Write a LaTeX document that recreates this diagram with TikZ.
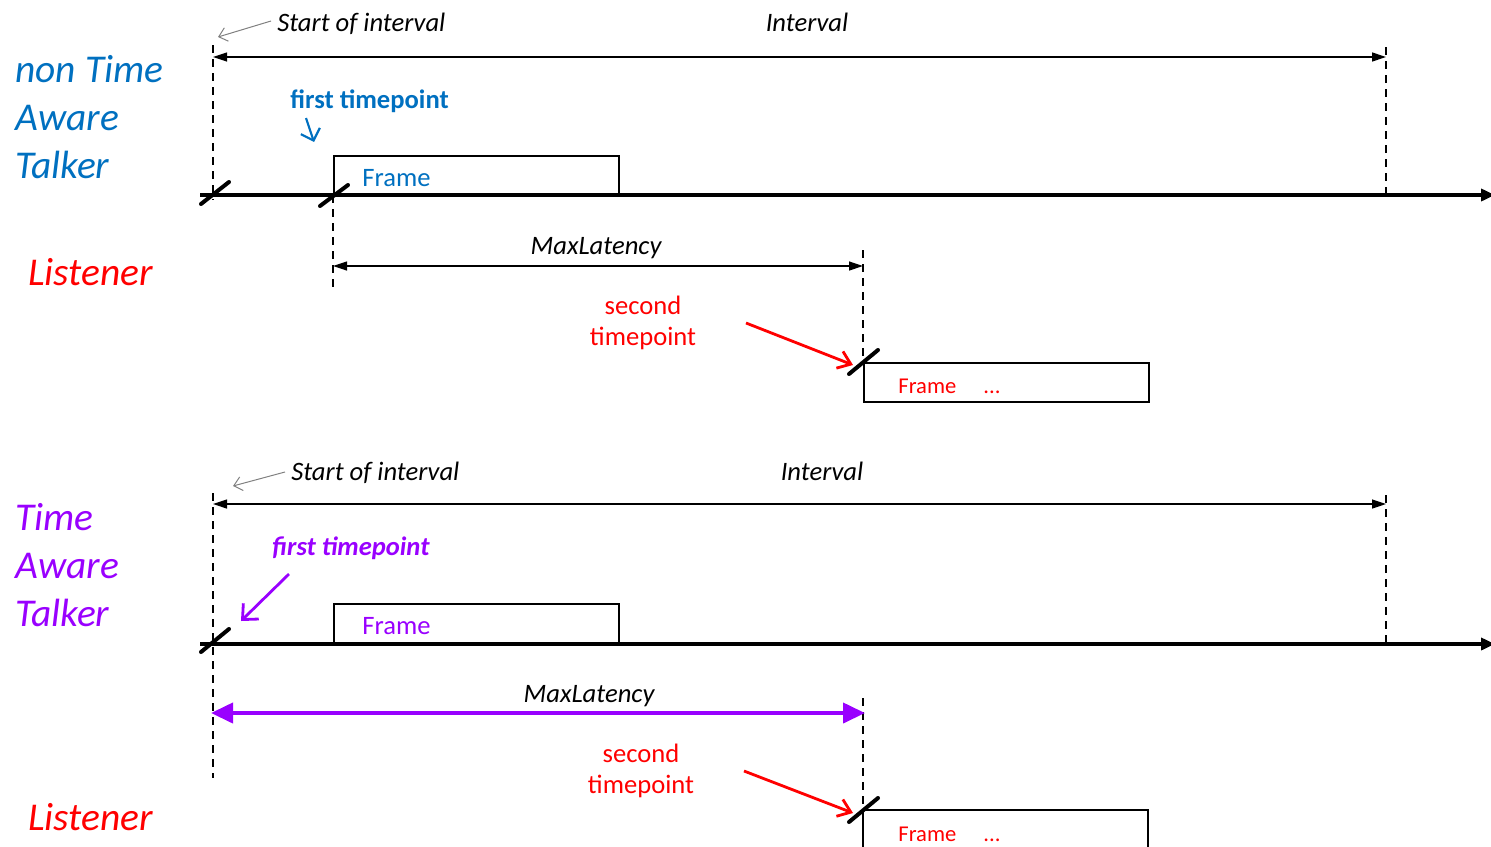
\documentclass[tikz,border=0pt]{standalone}
\usepackage{fontspec}
\setmainfont{Carlito}
\usetikzlibrary{arrows.meta,calc}
\definecolor{tblue}{RGB}{0,112,192}
\definecolor{tred}{RGB}{255,0,0}
\definecolor{tpurple}{RGB}{153,0,255}
\definecolor{tgray}{RGB}{128,128,128}
\tikzset{
  txt/.style={inner sep=0pt, anchor=base west, font=\fontsize{13.3}{16}\selectfont},
  big/.style={inner sep=0pt, anchor=base west, font=\fontsize{19.7}{24}\selectfont\itshape},
  timeline/.style={line width=2pt, -{Triangle[length=7pt,width=6pt]}},
  tick/.style={line width=2pt, line cap=round},
  guide/.style={line width=0.7pt, dash pattern=on 4pt off 3pt},
  dimarrow/.style={line width=0.6pt, {Triangle[length=7pt,width=4.5pt]}-{Triangle[length=7pt,width=4.5pt]}},
  framebox/.style={draw, line width=0.9pt, inner sep=0pt, anchor=north west},
  redarrow/.style={tred, line width=1.4pt, -{Straight Barb[length=6pt,width=9pt]}},
}
\begin{document}
\begin{tikzpicture}[x=0.5pt,y=-0.5pt]
\useasboundingbox (0,0) rectangle (1491,846);

% ================= TOP: non Time Aware Talker =================
\coordinate (t1L) at (200,195);
\coordinate (t1R) at (1495,195);
\coordinate (s1) at (213,195);
\coordinate (f1) at (333,195);
\coordinate (e1) at (1386,195);
\coordinate (g1) at (863,362);

\draw[timeline] (t1L) -- (t1R);

% dashed guides
\draw[guide] (213,45) -- (213,200);
\draw[guide] (1386,47) -- (e1);
\draw[guide] (f1) -- (333,287);
\draw[guide] (863,250) -- (g1);

% interval arrow
\coordinate (i1a) at (213,57);
\coordinate (i1b) at (1386,57);
\draw[dimarrow] (i1a) -- (i1b);
\node[txt, font=\fontsize{13.3}{16}\selectfont\itshape] (soi1) at (277,32) {Start of interval};
\node[txt, anchor=base, font=\fontsize{13.3}{16}\selectfont\itshape] (int1) at (807,32) {Interval};
\coordinate (soi1a) at (218,37);
\draw[tgray, line width=0.5pt, -{Straight Barb[length=4pt,width=7pt]}] (271,21) -- (soi1a);

% frame box
\node[framebox, minimum width=142.5pt, minimum height=20pt] (fb1) at (333,155) {};
\node[txt, tblue] (fr1) at (362,186) {Frame};

% first timepoint
\node[txt, tblue, font=\fontsize{13.3}{16}\selectfont\bfseries] (ft1) at (290,108) {first timepoint};
\coordinate (ft1a) at (306,118);
\coordinate (ft1b) at (314,142);
\draw[tblue, line width=1.1pt, -{Straight Barb[length=5pt,width=10pt]}] (ft1a) -- (ft1b);

% ticks
\draw[tick] ($(s1)+(-12,9)$) -- ($(s1)+(16,-13)$);
\draw[tick] ($(f1)+(-13,11)$) -- ($(f1)+(15,-10)$);

% MaxLatency
\coordinate (m1a) at (333,266);
\coordinate (m1b) at (863,266);
\draw[dimarrow] (m1a) -- (m1b);
\node[txt, anchor=base, font=\fontsize{13.3}{16}\selectfont\itshape] (ml1) at (596,254) {MaxLatency};

% second timepoint
\node[txt, anchor=base, tred] (sec1) at (643,314) {second};
\node[txt, anchor=base, tred] (tp1) at (643,345) {timepoint};
\coordinate (r1a) at (746,323);
\coordinate (r1b) at (853,365);
\draw[redarrow] (r1a) -- (r1b);

% listener frame
\node[framebox, minimum width=142.5pt, minimum height=19.5pt] (fb2) at (g1) {};
\draw[tick] ($(g1)+(-14,12)$) -- ($(g1)+(15,-12)$);
\node[txt, tred, font=\fontsize{11.3}{13}\selectfont] (fr2) at (898,393) {Frame\hspace{1.2em}...};

% labels
\node[big, tblue] (nt1) at (15,82) {non Time};
\node[big, tblue] (nt2) at (15,130) {Aware};
\node[big, tblue] (nt3) at (15,178) {Talker};
\node[big, tred] (li1) at (28,285) {Listener};

% ================= BOTTOM: Time Aware Talker =================
\coordinate (t2L) at (200,644);
\coordinate (t2R) at (1495,644);
\coordinate (s2) at (213,642);
\coordinate (e2) at (1386,644);
\coordinate (g2) at (863,810);

\draw[timeline] (t2L) -- (t2R);

\draw[guide] (213,493) -- (213,778);
\draw[guide] (1386,495) -- (e2);
\draw[guide] (863,698) -- (g2);

\coordinate (i2a) at (213,504);
\coordinate (i2b) at (1386,504);
\draw[dimarrow] (i2a) -- (i2b);
\node[txt, font=\fontsize{13.3}{16}\selectfont\itshape] (soi2) at (291,480) {Start of interval};
\node[txt, anchor=base, font=\fontsize{13.3}{16}\selectfont\itshape] (int2) at (822,480) {Interval};
\coordinate (soi2a) at (233,486);
\draw[tgray, line width=0.5pt, -{Straight Barb[length=4pt,width=7pt]}] (285,472) -- (soi2a);

\node[framebox, minimum width=142.5pt, minimum height=19.5pt] (fb3) at (333,603) {};
\node[txt, tpurple] (fr3) at (362,634) {Frame};

\node[txt, tpurple, font=\fontsize{13.3}{16}\selectfont\bfseries\itshape] (ft2) at (272,555) {first timepoint};
\coordinate (ft2a) at (289,574);
\coordinate (ft2b) at (241,621);
\draw[tpurple, line width=1.4pt, -{Straight Barb[length=6pt,width=11pt]}] (ft2a) -- (ft2b);

\draw[tick] ($(s2)+(-12,10)$) -- ($(s2)+(16,-13)$);

\coordinate (m2a) at (211,713);
\coordinate (m2b) at (865,713);
\draw[tpurple, line width=2pt, {Triangle[length=11pt,width=10pt]}-{Triangle[length=11pt,width=10pt]}] (m2a) -- (m2b);
\node[txt, anchor=base, font=\fontsize{13.3}{16}\selectfont\itshape] (ml2) at (589,702) {MaxLatency};

\node[txt, anchor=base, tred] (sec2) at (641,762) {second};
\node[txt, anchor=base, tred] (tp2) at (641,793) {timepoint};
\coordinate (r2a) at (744,771);
\coordinate (r2b) at (853,813);
\draw[redarrow] (r2a) -- (r2b);

\draw[line width=0.9pt] (863,850) -- (g2) -- (1148,810) -- (1148,850);
\draw[tick] ($(g2)+(-14,12)$) -- ($(g2)+(15,-12)$);
\node[txt, tred, font=\fontsize{11.3}{13}\selectfont] (fr4) at (898,841) {Frame\hspace{1.2em}...};

\node[big, tpurple] (ta1) at (15,530) {Time};
\node[big, tpurple] (ta2) at (15,578) {Aware};
\node[big, tpurple] (ta3) at (15,626) {Talker};
\node[big, tred] (li2) at (28,830) {Listener};
\end{tikzpicture}
\end{document}
